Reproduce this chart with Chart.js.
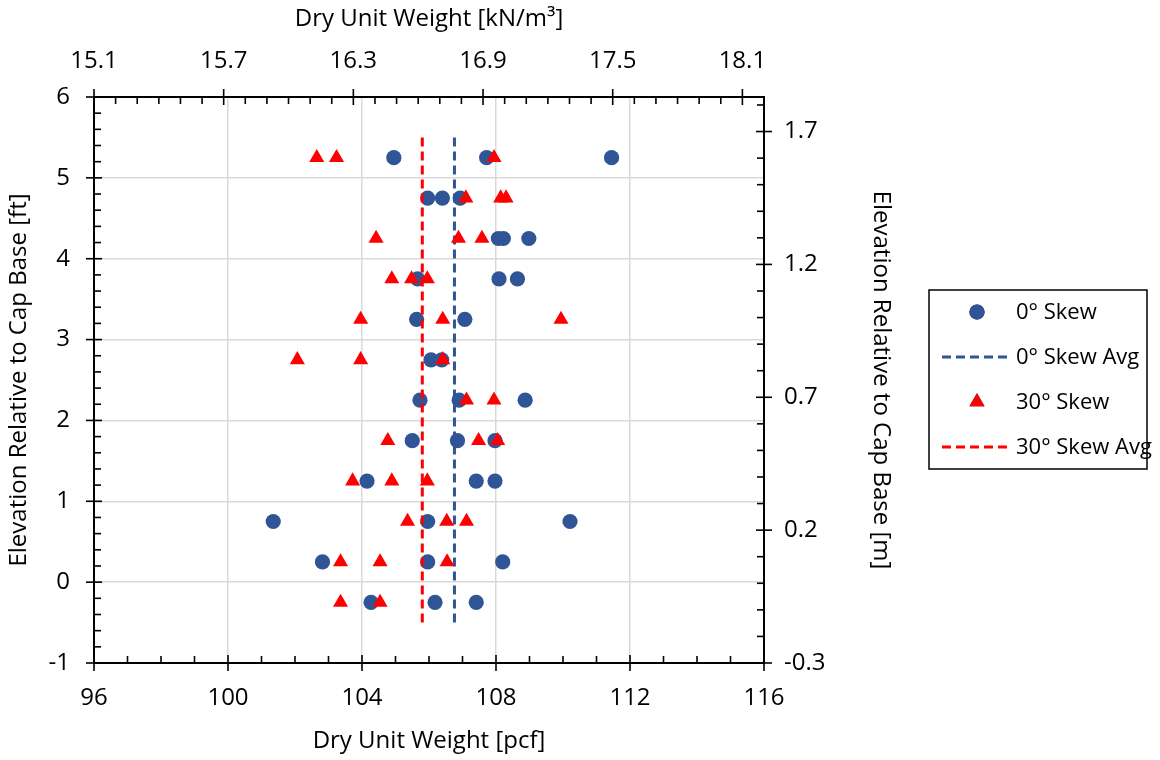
<!DOCTYPE html>
<html>
<head>
<meta charset="utf-8">
<script src="https://cdn.jsdelivr.net/npm/chart.js@4.4.1/dist/chart.umd.min.js"></script>
<style>
  html, body { margin: 0; padding: 0; background: #fff; }
  #wrap { width: 1160px; height: 760px; }
</style>
</head>
<body>
<div id="wrap"><canvas id="unitChart" width="1160" height="760"></canvas></div>
<script>
// elevations (ft) and dry unit weights (pcf)
const skew0Elev = [5.25, 5.25, 5.25, 4.75, 4.75, 4.75, 4.25, 4.25, 4.25, 3.75, 3.75, 3.75, 3.25, 3.25, 2.75, 2.75, 2.25, 2.25, 2.25, 1.75, 1.75, 1.75, 1.25, 1.25, 1.25, 0.75, 0.75, 0.75, 0.25, 0.25, 0.25, -0.25, -0.25, -0.25];
const skew0Pcf  = [104.95, 107.72, 111.45, 105.96, 106.40, 106.93, 108.07, 108.22, 108.98, 105.66, 108.09, 108.64, 105.63, 107.07, 106.06, 106.38, 105.73, 106.90, 108.87, 105.50, 106.85, 107.97, 104.15, 107.41, 107.97, 101.35, 105.96, 110.21, 102.82, 105.96, 108.20, 104.27, 106.18, 107.41];
const skew30Elev = [5.25, 5.25, 5.25, 4.75, 4.75, 4.75, 4.25, 4.25, 4.25, 3.75, 3.75, 3.75, 3.25, 3.25, 3.25, 2.75, 2.75, 2.75, 2.25, 2.25, 1.75, 1.75, 1.75, 1.25, 1.25, 1.25, 0.75, 0.75, 0.75, 0.25, 0.25, 0.25, -0.25, -0.25];
const skew30Pcf  = [102.65, 103.24, 107.94, 107.10, 108.14, 108.30, 104.42, 106.88, 107.58, 104.89, 105.48, 105.95, 103.96, 106.41, 109.94, 102.07, 103.96, 106.41, 107.12, 107.94, 104.77, 107.48, 108.05, 103.72, 104.89, 105.95, 105.36, 106.53, 107.12, 103.36, 104.54, 106.54, 103.36, 104.54];
const avgElev = [5.5, -0.5];
const skew0Avg = 106.76;
const skew30Avg = 105.80;

// tick labels
const pcfTicks = [96, 100, 104, 108, 112, 116];
const knTicks = [15.1, 15.7, 16.3, 16.9, 17.5, 18.1];
const ftTicks = [-1, 0, 1, 2, 3, 4, 5, 6];
const mTicks = [-0.3, 0.2, 0.7, 1.2, 1.7];

const FONT = "'Open Sans', 'Liberation Sans', sans-serif";
const BLUE = '#2F5597';
const RED = '#FF0000';

const pts = (xs, ys) => xs.map((x, i) => ({ x: x, y: ys[i] }));
const setTicks = (arr) => (scale) => { scale.ticks = arr.map(v => ({ value: v })); };

// minor / major tick marks drawn on each axis
const tickMarks = {
  id: 'tickMarks',
  afterDraw(chart) {
    const { ctx, chartArea: a, scales } = chart;
    ctx.save();
    ctx.strokeStyle = '#000';
    ctx.lineWidth = 1.6;
    const marks = (scale, step, majors, fn) => {
      const n = Math.round((scale.max - scale.min) / step);
      for (let i = 0; i <= n; i++) {
        const v = scale.min + i * step;
        const major = majors.some(m => Math.abs(m - v) < step / 10);
        fn(scale.getPixelForValue(v), major);
      }
    };
    const line = (x1, y1, x2, y2) => { ctx.beginPath(); ctx.moveTo(x1, y1); ctx.lineTo(x2, y2); ctx.stroke(); };
    marks(scales.x, 1, pcfTicks, (p, m) => m ? line(p, a.bottom - 8, p, a.bottom + 8) : line(p, a.bottom - 7, p, a.bottom));
    marks(scales.x2, 0.1, knTicks, (p, m) => m ? line(p, a.top - 8, p, a.top + 8) : line(p, a.top, p, a.top + 7));
    marks(scales.y, 0.2, ftTicks, (p, m) => m ? line(a.left - 8, p, a.left + 8, p) : line(a.left, p, a.left + 7, p));
    marks(scales.y2, 0.1, mTicks, (p, m) => m ? line(a.right - 8, p, a.right + 8, p) : line(a.right - 7, p, a.right, p));
    ctx.restore();
  }
};

// boxed legend at the right
const boxLegend = {
  id: 'boxLegend',
  afterDraw(chart) {
    const ctx = chart.ctx;
    const x0 = 929, y0 = 290, w = 218, h = 179;
    ctx.save();
    ctx.strokeStyle = '#000';
    ctx.lineWidth = 1.5;
    ctx.strokeRect(x0, y0, w, h);
    ctx.font = '22px ' + FONT;
    ctx.fillStyle = '#000';
    ctx.textBaseline = 'middle';
    const rows = [312, 357, 402, 447];
    const sx = 977;
    chart.data.datasets.forEach((ds, i) => {
      const y = rows[i];
      if (ds.showLine) {
        ctx.strokeStyle = ds.borderColor;
        ctx.lineWidth = ds.borderWidth;
        ctx.setLineDash(ds.borderDash);
        ctx.beginPath(); ctx.moveTo(942, y); ctx.lineTo(1012, y); ctx.stroke();
        ctx.setLineDash([]);
      } else {
        Chart.helpers.drawPoint(ctx, { pointStyle: ds.pointStyle, radius: ds.pointRadius, borderWidth: 0, rotation: 0 }, sx, y);
        ctx.fillStyle = ds.backgroundColor;
        ctx.fill();
      }
      ctx.fillStyle = '#000';
      ctx.fillText(ds.label, 1016, y + 1);
    });
    ctx.restore();
  }
};

const titleFont = { family: FONT, size: 24 };
const tickFont = { family: FONT, size: 24 };

new Chart(document.getElementById('unitChart').getContext('2d'), {
  type: 'scatter',
  data: {
    datasets: [
      { label: '0° Skew', data: pts(skew0Pcf, skew0Elev), pointStyle: 'circle', pointRadius: 7.6, pointHoverRadius: 7.6,
        backgroundColor: BLUE, borderColor: BLUE, borderWidth: 0, xAxisID: 'x', yAxisID: 'y', order: 4 },
      { label: '0° Skew Avg', data: pts([skew0Avg, skew0Avg], avgElev), showLine: true, pointRadius: 0,
        borderColor: BLUE, backgroundColor: BLUE, borderWidth: 3, borderDash: [9, 5], xAxisID: 'x', yAxisID: 'y', order: 3 },
      { label: '30° Skew', data: pts(skew30Pcf, skew30Elev), pointStyle: 'triangle', pointRadius: 8.7, pointHoverRadius: 8.7,
        backgroundColor: RED, borderColor: RED, borderWidth: 0, xAxisID: 'x', yAxisID: 'y', order: 2 },
      { label: '30° Skew Avg', data: pts([skew30Avg, skew30Avg], avgElev), showLine: true, pointRadius: 0,
        borderColor: RED, backgroundColor: RED, borderWidth: 3, borderDash: [9, 5], xAxisID: 'x', yAxisID: 'y', order: 1 }
    ]
  },
  options: {
    responsive: false,
    animation: false,
    layout: { padding: { left: 0, top: 0, bottom: 0, right: 261 } },
    plugins: { legend: { display: false }, tooltip: { enabled: false } },
    scales: {
      x: {
        type: 'linear', position: 'bottom', min: 96, max: 116,
        afterBuildTicks: setTicks(pcfTicks),
        afterFit: (s) => { s.height = 97; },
        grid: { color: '#D9D9D9', lineWidth: 1.5, drawTicks: false },
        border: { display: true, color: '#000', width: 2 },
        ticks: { font: tickFont, color: '#000', padding: 21, maxRotation: 0 },
        title: { display: true, text: 'Dry Unit Weight [pcf]', font: titleFont, color: '#000', padding: { top: 4, bottom: 4 } }
      },
      x2: {
        type: 'linear', position: 'top', min: 15.1, max: 18.2,
        afterBuildTicks: setTicks(knTicks),
        afterFit: (s) => { s.height = 97; },
        grid: { display: false, drawTicks: false },
        border: { display: true, color: '#000', width: 2 },
        ticks: { font: tickFont, color: '#000', padding: 21, maxRotation: 0, callback: (v) => v.toFixed(1) },
        title: { display: true, text: 'Dry Unit Weight [kN/m³]', font: titleFont, color: '#000', padding: { top: 5, bottom: 4 } }
      },
      y: {
        type: 'linear', position: 'left', min: -1, max: 6,
        afterBuildTicks: setTicks(ftTicks),
        afterFit: (s) => { s.width = 94; },
        grid: { color: '#D9D9D9', lineWidth: 1.5, drawTicks: false },
        border: { display: true, color: '#000', width: 2 },
        ticks: { font: tickFont, color: '#000', padding: 24 },
        title: { display: true, text: 'Elevation Relative to Cap Base [ft]', font: titleFont, color: '#000', padding: { top: 5, bottom: 4 } }
      },
      y2: {
        type: 'linear', position: 'right', min: -0.3, max: 1.83,
        afterBuildTicks: setTicks(mTicks),
        afterFit: (s) => { s.width = 135; },
        grid: { display: false, drawTicks: false },
        border: { display: true, color: '#000', width: 2 },
        ticks: { font: tickFont, color: '#000', padding: 20, callback: (v) => v.toFixed(1) },
        title: { display: true, text: 'Elevation Relative to Cap Base [m]', font: titleFont, color: '#000', padding: { top: 4, bottom: 4 } }
      }
    }
  },
  plugins: [tickMarks, boxLegend]
});
</script>
</body>
</html>
